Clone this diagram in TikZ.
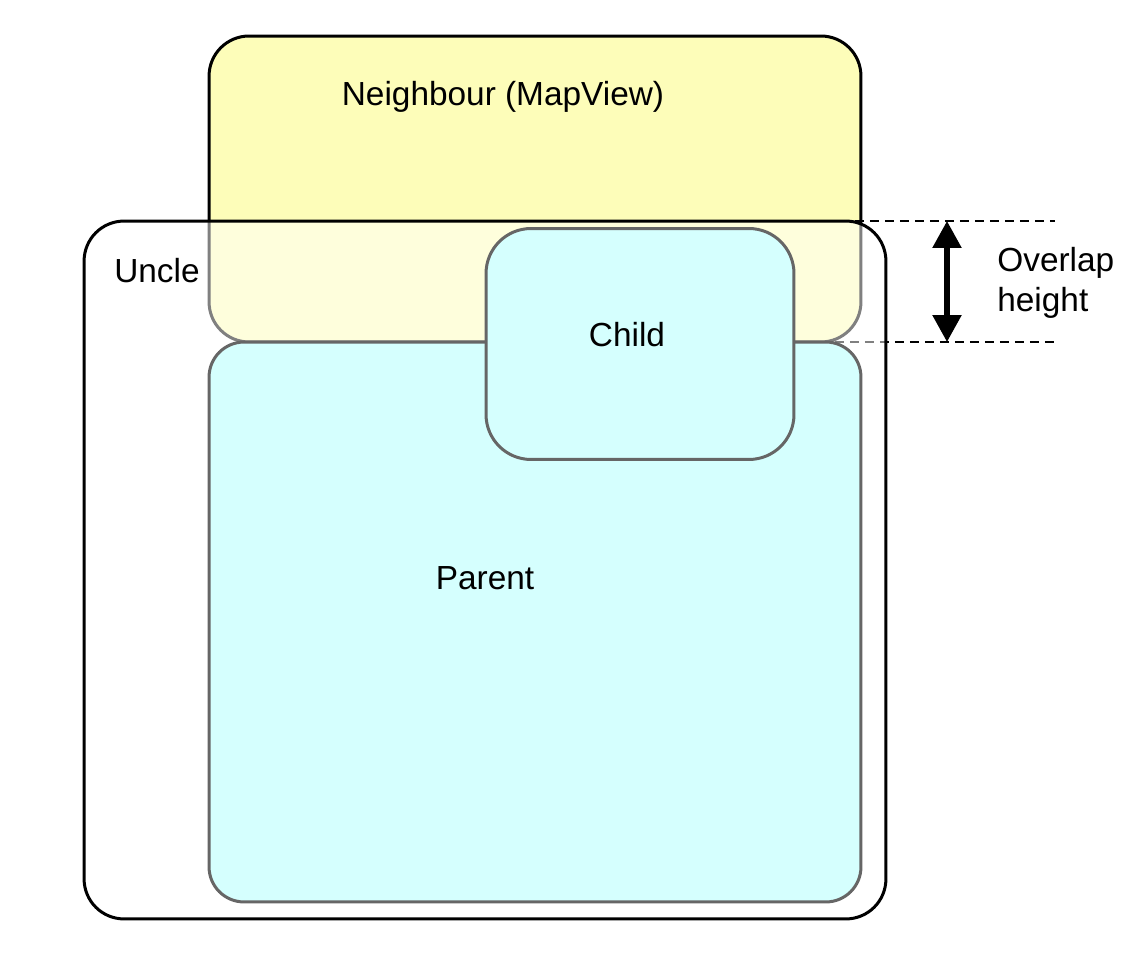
\documentclass[tikz,border=0pt]{standalone}
\usepackage{fontspec}
\setmainfont{Liberation Sans}
\usetikzlibrary{arrows.meta,positioning,calc}

\definecolor{nbyellow}{RGB}{253,253,185}
\definecolor{viewcyan}{RGB}{213,255,254}
\definecolor{viewgray}{RGB}{102,102,102}

\begin{document}
\begin{tikzpicture}
[x=0.02cm,y=-0.02cm,
view/.style={shape=rectangle,inner sep=0pt,outer sep=0pt,line width=0.06cm},
lbl/.style={font=\fontsize{19}{23}\selectfont,inner sep=0pt},
guide/.style={line width=0.035cm,dash pattern=on 0.18cm off 0.12cm},
gap/.style={{Triangle[width=0.56cm,length=0.54cm]}-{Triangle[width=0.56cm,length=0.54cm]},line width=0.11cm}]

\useasboundingbox (0,0) rectangle (1126,972);

% neighbour view on top
\node (nb) [view,draw=black,fill=nbyellow,rounded corners=0.8cm,
  minimum width=13.04cm,minimum height=6.12cm] at (535,189) {};
\node (nblbl) [lbl] at (503,97) {Neighbour (MapView)};

% overlap guides
\coordinate (gtop1) at (375,221);
\coordinate (gtop2) at (1055,221);
\coordinate (gbot1) at (820,342);
\coordinate (gbot2) at (1055,342);
\draw[guide] (gtop1) -- (gtop2);
\draw[guide] (gbot1) -- (gbot2);

% uncle
\node (uncle) [view,draw=black,fill=white,fill opacity=0.5,rounded corners=0.8cm,
  minimum width=16.04cm,minimum height=13.96cm] at (485,570) {};
\node (unclelbl) [lbl] at (157,271) {Uncle};

% parent and child
\node (parent) [view,draw=viewgray,fill=viewcyan,rounded corners=0.7cm,
  minimum width=13.04cm,minimum height=11.2cm] at (535,622) {};
\node (parentlbl) [lbl] at (485,578) {Parent};
\node (child) [view,draw=viewgray,fill=viewcyan,rounded corners=0.9cm,
  minimum width=6.16cm,minimum height=4.62cm] at (640,344) {};
\node (childlbl) [lbl] at (627,335) {Child};

% overlap height
\coordinate (atop) at (947,221);
\coordinate (abot) at (947,342);
\draw[gap] (atop) -- (abot);
\node (ovlbl) [lbl,anchor=west,align=left] at (997,283) {Overlap\\height};

\end{tikzpicture}
\end{document}
